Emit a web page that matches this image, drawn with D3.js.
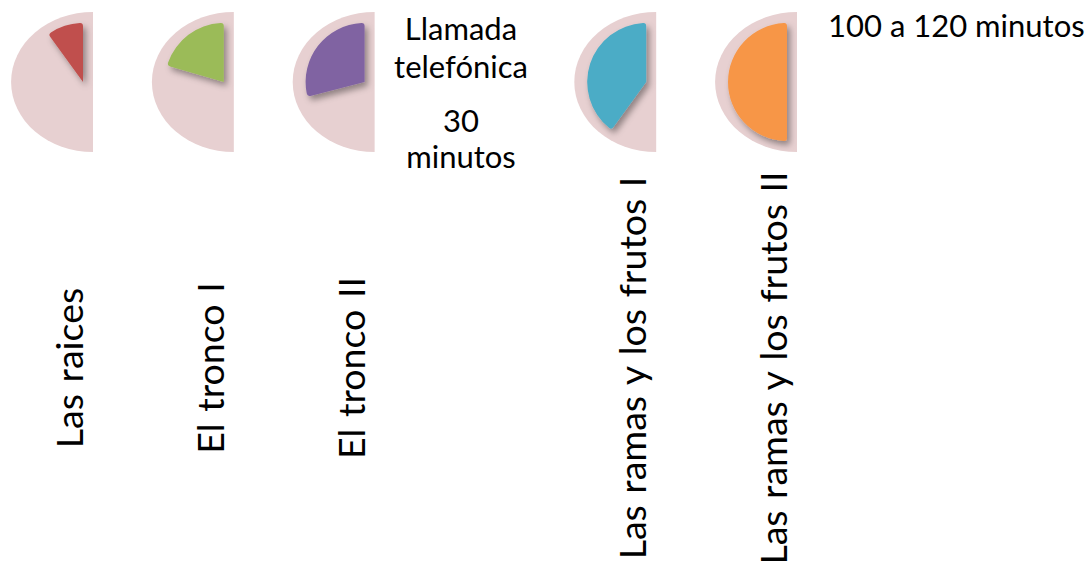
<!DOCTYPE html>
<html>
<head>
<meta charset="utf-8">
<script src="https://cdn.jsdelivr.net/npm/d3@7"></script>
<style>
  html, body { margin: 0; padding: 0; background: #ffffff; }
  svg { display: block; }
  text { font-family: Lato, "Open Sans", sans-serif; fill: #000; }
</style>
</head>
<body>
<svg id="chart" width="1088" height="569"></svg>
<script>
// ---- data ----
const categories = ["Las raices", "El tronco I", "El tronco II", "Las ramas y los frutos I", "Las ramas y los frutos II"];
const slots = [0, 1, 2, 4, 5];                 // column slot of each stage (slot 3 holds the call note)
const progress = [20, 41, 58, 80, 100];        // % of the half circle filled
const colors = ["#C0504D", "#9BBB59", "#8064A2", "#4BACC6", "#F79646"];
const noteLines = [["Llamada", "telefónica"], ["30", "minutos"]];
const totalNote = "100 a 120 minutos";

const svg = d3.select("#chart");

const x = d3.scaleLinear().domain([0, 5]).range([93, 797]);
const angle = d3.scaleLinear().domain([0, 100]).range([0, -Math.PI]);
const cy = 82;

// drop shadow
const defs = svg.append("defs");
const f = defs.append("filter").attr("id", "shadow")
  .attr("x", "-30%").attr("y", "-30%").attr("width", "160%").attr("height", "160%");
f.append("feDropShadow").attr("dx", 3).attr("dy", 4).attr("stdDeviation", 3)
  .attr("flood-color", "#000").attr("flood-opacity", 0.38);

const data = categories.map((c, i) => ({ c, slot: slots[i], v: progress[i], color: colors[i] }));

const bgArc = d3.arc().innerRadius(0).outerRadius(70).startAngle(0).endAngle(-Math.PI);
const wedgeArc = d3.arc().innerRadius(0).outerRadius(59).cornerRadius(3);

const g = svg.selectAll("g.pie").data(data).join("g")
  .attr("class", "pie")
  .attr("transform", d => `translate(${x(d.slot)},${cy})`);

// pink half background (slightly wider than tall)
g.append("path")
  .attr("d", bgArc())
  .attr("transform", "scale(1.17,1)")
  .attr("fill", "#E7D0D1");

g.append("path")
  .attr("transform", "translate(-10,0)")
  .attr("d", d => wedgeArc({ startAngle: angle(d.v), endAngle: 0 }))
  .attr("fill", d => d.color)
  .attr("filter", "url(#shadow)");

// vertical category labels
svg.selectAll("text.cat").data(data).join("text")
  .attr("class", "cat")
  .attr("transform", d => `translate(${x(d.slot) - 10},368) rotate(-90)`)
  .attr("text-anchor", "middle")
  .attr("font-size", 37.5)
  .attr("word-spacing", 2)
  .text(d => d.c);

// call note
const note = svg.append("text").attr("text-anchor", "middle").attr("font-size", 31);
const baselines = [[40, 78], [132, 168]];
noteLines.forEach((para, pi) => para.forEach((ln, li) => {
  note.append("tspan").attr("x", 461).attr("y", baselines[pi][li]).text(ln);
}));

svg.append("text").attr("x", 828).attr("y", 37).attr("font-size", 31).text(totalNote);
</script>
</body>
</html>
